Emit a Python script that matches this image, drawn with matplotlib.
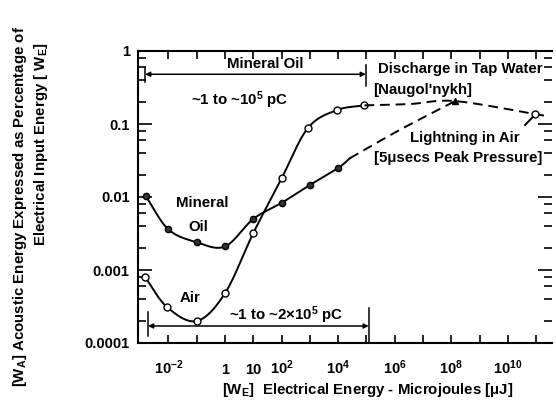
import numpy as np
import matplotlib
matplotlib.use("Agg")
import matplotlib.pyplot as plt
from matplotlib.ticker import FixedLocator, NullLocator, LogLocator

plt.rcParams["font.family"] = ["Liberation Sans", "DejaVu Sans"]
plt.rcParams["font.weight"] = "bold"
plt.rcParams["mathtext.fontset"] = "custom"
plt.rcParams["mathtext.rm"] = "Liberation Sans:bold"
plt.rcParams["mathtext.it"] = "Liberation Sans:bold"
plt.rcParams["mathtext.default"] = "rm"
FS = 10.8

# mineral oil (filled circles)
mineral_x = [1.6e-3, 1e-2, 1e-1, 1, 10, 1e2, 1e3, 1e4]
mineral_y = [0.0102, 0.0036, 0.0024, 0.0021, 0.005, 0.0083, 0.0146, 0.025]

# air (open circles)
air_x = [1.5e-3, 9e-3, 0.1, 1, 10, 1e2, 8.5e2, 9e3, 8.5e4]
air_y = [8.0e-4, 3.1e-4, 2.0e-4, 4.8e-4, 3.2e-3, 0.018, 0.088, 0.155, 0.18]

# dashed extensions
lightning_x = [2.6e4, 1.5e6, 1.35e8]
lightning_y = [0.034, 0.083, 0.206]
tapwater_x = [8.5e4, 3.5e6, 1.35e8, 8.9e10, 2e11]
tapwater_y = [0.18, 0.188, 0.206, 0.137, 0.129]
naugol_x, naugol_y = [1.35e8], [0.206]
light_pt_x, light_pt_y = [8.9e10], [0.137]

xtick_vals = [1e-2, 1, 10, 1e2, 1e4, 1e6, 1e8, 1e10]
xtick_labels = ["$10^{-2}$", "1", "10", "$10^{2}$", "$10^{4}$", "$10^{6}$", "$10^{8}$", "$10^{10}$"]
ytick_vals = [1e-4, 1e-3, 1e-2, 1e-1, 1]
ytick_labels = ["0.0001", "0.001", "0.01", "0.1", "1"]


def smooth(xs, ys, n=24):
    # Catmull-Rom through the points in log-log space, only for drawing the curve
    P = np.column_stack([np.log10(xs), np.log10(ys)])
    P = np.vstack([2 * P[0] - P[1], P, 2 * P[-1] - P[-2]])
    t = np.linspace(0, 1, n, endpoint=False)[:, None]
    out = []
    for i in range(1, len(P) - 2):
        p0, p1, p2, p3 = P[i - 1], P[i], P[i + 1], P[i + 2]
        out.append(0.5 * (2 * p1 + (-p0 + p2) * t + (2 * p0 - 5 * p1 + 4 * p2 - p3) * t ** 2
                          + (-p0 + 3 * p1 - 3 * p2 + p3) * t ** 3))
    out.append(P[-2][None, :])
    pts = np.vstack(out)
    return 10 ** pts[:, 0], 10 ** pts[:, 1]


fig = plt.figure(figsize=(5.56, 4.08), dpi=100)
ax = fig.add_axes([138 / 556, 1 - 343 / 408, 414 / 556, 292 / 408])
ax.set_xscale("log")
ax.set_yscale("log")
ax.set_xlim(10 ** -3.074, 10 ** 11.555)
ax.set_ylim(1e-4, 1)

lw = 1.4
dash = (0, (5, 3))
sx, sy = smooth(mineral_x + lightning_x[:1], mineral_y + lightning_y[:1])
ax.plot(sx, sy, color="black", lw=lw)
ax.plot(mineral_x, mineral_y, "o", color="black", ms=4.5, mfc="#333333", mew=1.0)

sx, sy = smooth(air_x, air_y)
ax.plot(sx, sy, color="black", lw=lw)
ax.plot(air_x, air_y, "o", color="black", ms=5, mfc="white", mew=1.0)

sx, sy = smooth(lightning_x, lightning_y)
ax.plot(sx, sy, color="black", lw=lw, linestyle=dash)
sx, sy = smooth(tapwater_x, tapwater_y)
ax.plot(sx, sy, color="black", lw=lw, linestyle=dash)
ax.plot(naugol_x, naugol_y, "^", color="black", ms=5)
ax.plot(light_pt_x, light_pt_y, "o", color="black", ms=5, mfc="white", mew=1.0)
ax.plot([4e10, 7.6e10], [0.097, 0.125], color="black", lw=lw)

# range arrows
ax.annotate("", xy=(0.0015, 0.48), xytext=(9.5e4, 0.48),
            arrowprops=dict(arrowstyle="<|-|>", color="black", lw=1.1,
                            mutation_scale=7, shrinkA=0, shrinkB=0))
ax.plot([0.0015, 0.0015], [0.376, 0.585], color="black", lw=1.1)
ax.plot([9.5e4, 9.5e4], [0.33, 0.643], color="black", lw=1.1)
ax.annotate("", xy=(0.0019, 1.71e-4), xytext=(1.2e5, 1.71e-4),
            arrowprops=dict(arrowstyle="<|-|>", color="black", lw=1.1,
                            mutation_scale=7, shrinkA=0, shrinkB=0))
ax.plot([0.0019, 0.0019], [1.25e-4, 2.66e-4], color="black", lw=1.1)
ax.plot([1.2e5, 1.2e5], [1e-4, 3.0e-4], color="black", lw=1.1)

kw = dict(fontsize=FS, color="black")
ax.text(26, 0.66, "Mineral Oil", ha="center", va="center", **kw)
ax.text(3.4, 0.213, "~1 to ~$10^{5}$ pC", ha="center", va="center", **kw)
ax.text(0.155, 0.0083, "Mineral", ha="center", va="center", **kw)
ax.text(0.11, 0.0039, "Oil", ha="center", va="center", **kw)
ax.text(0.058, 4.2e-4, "Air", ha="center", va="center", **kw)
ax.text(140, 2.4e-4, "~1 to ~2$\\times$$10^{5}$ pC", ha="center", va="center", **kw)
ax.text(10 ** 5.41, 0.567, "Discharge in Tap Water", ha="left", va="center", **kw)
ax.text(10 ** 5.23, 0.292, "[Naugol'nykh]", ha="left", va="center", **kw)
ax.text(10 ** 6.55, 0.064, "Lightning in Air", ha="left", va="center", **kw)
ax.text(10 ** 5.25, 0.034, "[5\u03bcsecs Peak Pressure]", ha="left", va="center", **kw)

# ticks
ax.xaxis.set_major_locator(FixedLocator(np.logspace(-2, 11, 14)))
ax.xaxis.set_minor_locator(NullLocator())
ax.set_xticks(np.logspace(-2, 11, 14))
lab = {v: l for v, l in zip(xtick_vals, xtick_labels)}
ax.set_xticklabels([lab.get(v, "") for v in np.logspace(-2, 11, 14)])
ax.set_yticks(ytick_vals)
ax.set_yticklabels(ytick_labels)
ax.yaxis.set_minor_locator(LogLocator(base=10, subs=(2, 4, 6, 8)))
ax.yaxis.set_minor_formatter(plt.NullFormatter())
ax.tick_params(axis="x", which="major", direction="in", length=6, width=1.2,
               top=True, labelsize=10.5, pad=22)
ax.tick_params(axis="y", which="major", direction="in", length=10, width=1.2,
               right=True, labelsize=10.5, pad=6)
ax.tick_params(axis="y", which="minor", direction="in", length=6, width=1.2, right=True)
for t in ax.get_xticklabels():
    t.set_va("baseline")
for s in ["left", "bottom", "top"]:
    ax.spines[s].set_linewidth(1.5)
ax.spines["right"].set_visible(False)

fig.text(368 / 556, 1 - 394 / 408, "[W$_E$]  Electrical Energy - Microjoules [\u03bcJ]",
         ha="center", va="baseline", fontsize=FS)
fig.text(20 / 556, 1 - 26 / 408, "[W$_A$] Acoustic Energy Expressed as Percentage of",
         rotation=90, rotation_mode="anchor", ha="right", va="center", fontsize=FS)
fig.text(41 / 556, 1 - 42 / 408, "Electrical Input Energy [ W$_E$]",
         rotation=90, rotation_mode="anchor", ha="right", va="center", fontsize=FS)

fig.savefig("out.png", dpi=100)
